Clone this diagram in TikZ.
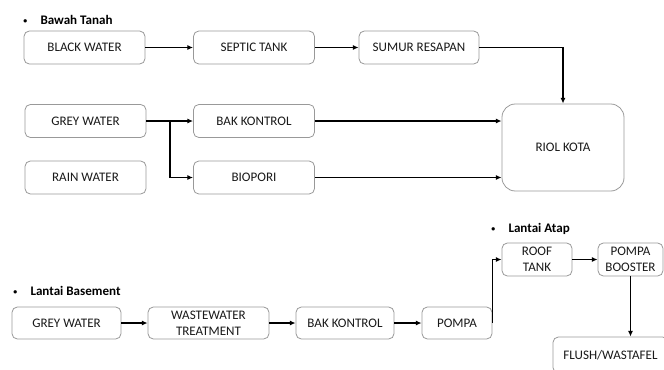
\documentclass[tikz,border=0pt]{standalone}
\usepackage{fontspec}
\setmainfont{Carlito}
\usepackage{tikz}
\usetikzlibrary{arrows.meta}

\newcommand{\hdrdot}{\raisebox{0.9pt}{\scalebox{0.6}{\textbullet}}\hspace{10pt}}

\begin{document}
\begin{tikzpicture}[
  x=0.75pt, y=-0.75pt,
  font=\fontsize{9.8}{12}\selectfont,
  every node/.style={align=center},
  box/.style={draw=black!40, line width=0.6pt, rounded corners=4pt,
              minimum height=24.75pt, minimum width=90.75pt,
              inner sep=1pt, text=black!90},
  bigbox/.style={box, rounded corners=10pt, minimum width=91.5pt,
                 minimum height=65.25pt},
  header/.style={anchor=west, inner sep=0pt, font=\fontsize{9.8}{12}\selectfont\bfseries},
  arrow/.style={-{Latex[length=1.5mm, width=1.3mm]}, line width=1pt}
]
\useasboundingbox (0,0) rectangle (664,369);
\clip (0,0) rectangle (664,369);

% bawah tanah
\node[header] (hdrtanah) at (23,20) {\hdrdot Bawah Tanah};
\node[box] (black)   at (84.5,47.5)  {BLACK WATER};
\node[box] (septic)  at (254,47.5)   {SEPTIC TANK};
\node[box, minimum width=90pt] (sumur) at (419,47.5) {SUMUR RESAPAN};
\node[box] (grey)    at (85.5,121)   {GREY WATER};
\node[box] (bak)     at (254,121)    {BAK KONTROL};
\node[box] (rain)    at (85.5,177.5) {RAIN WATER};
\node[box] (biopori) at (254,177.5)  {BIOPORI};
\node[bigbox] (riol) at (563,147.5)  {RIOL KOTA};
\coordinate (split) at (170,121);

\draw[arrow] (black) -- (septic);
\draw[arrow] (septic) -- (sumur);
\draw[arrow] (sumur.east) -| (riol.north);
\draw[arrow] (grey) -- (bak);
\draw[arrow] (split) |- (biopori.west);
\draw[arrow] (bak.east) -- (bak.east -| riol.west);
\draw[arrow] (biopori.east) -- (biopori.east -| riol.west);

% basement dan atap
\node[header] (hdrbase) at (13,291)  {\hdrdot Lantai Basement};
\node[header] (hdratap) at (491,229) {\hdrdot Lantai Atap};
\node[box, minimum width=81.75pt, minimum height=24pt] (grey2) at (66.5,323) {GREY WATER};
\node[box, minimum height=24pt] (wwt)   at (208.5,323) {WASTEWATER\\TREATMENT};
\node[box, minimum width=73.5pt, minimum height=24pt] (bak2)  at (345,323) {BAK KONTROL};
\node[box, minimum width=52.5pt, minimum height=24pt] (pompa) at (457,323) {POMPA};
\node[box, minimum width=52.5pt] (roof)    at (537,259.5) {ROOF\\TANK};
\node[box, minimum width=48.75pt] (booster) at (630.5,259.5) {POMPA\\BOOSTER};
\node[box, minimum width=86.25pt, minimum height=27pt] (flush) at (610.5,355) {FLUSH/WASTAFEL};

\draw[arrow] (grey2) -- (wwt);
\draw[arrow] (wwt) -- (bak2);
\draw[arrow] (bak2) -- (pompa);
\draw[arrow] (pompa.east) |- (roof.west);
\draw[arrow] (roof) -- (booster);
\draw[arrow] (booster.south) -- (booster.south |- flush.north);

\end{tikzpicture}
\end{document}
